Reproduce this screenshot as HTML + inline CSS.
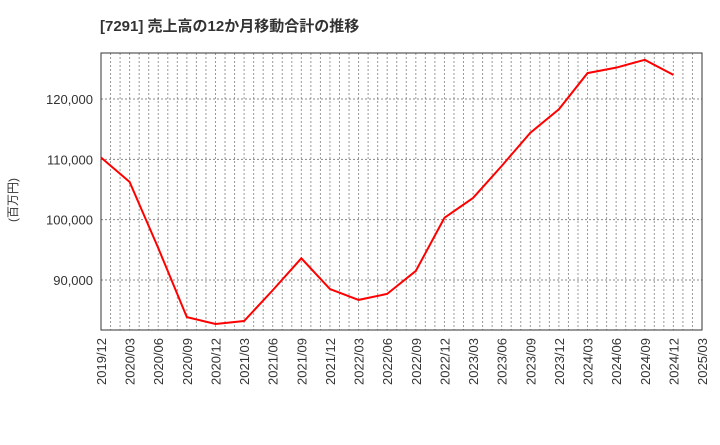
<!DOCTYPE html>
<html><head><meta charset="utf-8"><style>
body{margin:0;background:#fff;width:720px;height:440px;overflow:hidden}
svg{font-family:"Liberation Sans","Noto Sans CJK JP",sans-serif}
</style></head><body>
<svg id="c" width="720" height="440">
<text x="100" y="31" font-size="15" font-weight="bold" fill="#333">[7291]  売上高の12か月移動合計の推移</text>
<text transform="translate(17,200) rotate(-90)" font-size="12" fill="#333" text-anchor="middle">(百万円)</text>
</svg>
<script>
const categories=["2019/12","2020/03","2020/06","2020/09","2020/12","2021/03","2021/06","2021/09","2021/12","2022/03","2022/06","2022/09","2022/12","2023/03","2023/06","2023/09","2023/12","2024/03","2024/06","2024/09","2024/12","2025/03"];
const sales=[110300,106250,95300,83850,82700,83200,88300,93600,88500,86700,87700,91500,100300,103600,108900,114400,118300,124300,125200,126500,124000];
const yTicks=[90000,100000,110000,120000];
const L=101,R=702,T=53,B=330,YMIN=81710,YMAX=127630;
const ns="http://www.w3.org/2000/svg",svg=document.getElementById('c');
const x=i=>L+(R-L)*i/(categories.length-1);
const y=v=>B-(v-YMIN)/(YMAX-YMIN)*(B-T);
function mk(t,a,p){const e=document.createElementNS(ns,t);for(const k in a)e.setAttribute(k,a[k]);(p||svg).appendChild(e);return e;}
const nm=(categories.length-1)*3;
for(let m=1;m<nm;m++){const xx=L+(R-L)*m/nm;const g=mk('line',{x1:xx,x2:xx,y1:T,y2:B,stroke:'#999','stroke-dasharray':'2,2','stroke-width':1});

}
yTicks.forEach(v=>{const g=mk('line',{x1:L,x2:R,y1:y(v),y2:y(v),stroke:'#888','stroke-dasharray':'2,2'});


const t=mk('text',{x:L-8,y:y(v)+5,'text-anchor':'end','font-size':13,fill:'#333'});t.textContent=v.toLocaleString('en-US');

});
categories.forEach((c,i)=>{const t=mk('text',{transform:`translate(${x(i)+5},${B+8}) rotate(-90)`,'text-anchor':'end','font-size':13,fill:'#333'});t.textContent=c;

});
const fr=mk('rect',{x:L,y:T,width:R-L,height:B-T,fill:'none',stroke:'#333','stroke-width':1});


const ln=mk('polyline',{points:sales.map((v,i)=>x(i)+','+y(v)).join(' '),fill:'none',stroke:'#f00','stroke-width':2});


</script>
</body></html>
